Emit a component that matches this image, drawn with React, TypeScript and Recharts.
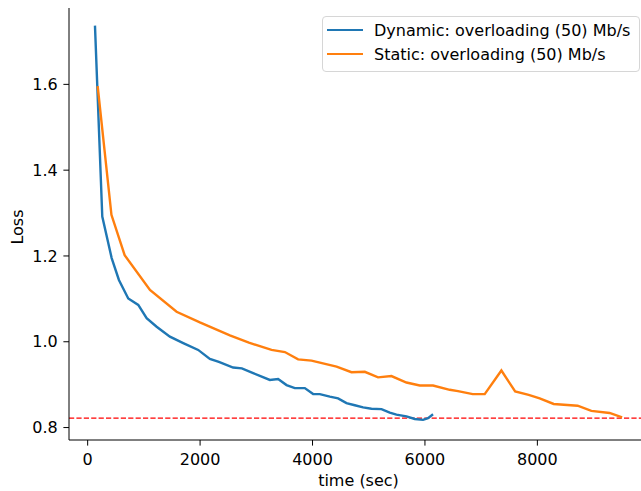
import { LineChart, Line, XAxis, YAxis, Legend, ReferenceLine } from 'recharts';

// values
const dynamicTime = [130, 260, 427, 556, 722, 900, 1049, 1227, 1463, 1700, 1966, 2174, 2334, 2588, 2743, 2944, 3241, 3388, 3538, 3685, 3863, 4011, 4130, 4308, 4455, 4604, 4752, 4900, 5049, 5227, 5374, 5493, 5671, 5819, 5966, 6055, 6144];
const dynamicLoss = [1.737, 1.292, 1.195, 1.144, 1.101, 1.086, 1.055, 1.035, 1.012, 0.997, 0.981, 0.96, 0.953, 0.94, 0.938, 0.927, 0.911, 0.913, 0.899, 0.892, 0.892, 0.878, 0.878, 0.872, 0.868, 0.857, 0.852, 0.847, 0.844, 0.843, 0.835, 0.83, 0.826, 0.82, 0.818, 0.822, 0.831];

const staticTime = [178, 423, 658, 1108, 1582, 1996, 2530, 2868, 3271, 3508, 3744, 3982, 4428, 4693, 4930, 5166, 5404, 5671, 5908, 6144, 6441, 6588, 6850, 7063, 7360, 7605, 7845, 8041, 8290, 8716, 8960, 9285, 9508];
const staticLoss = [1.596, 1.296, 1.202, 1.121, 1.07, 1.045, 1.015, 0.998, 0.981, 0.976, 0.959, 0.956, 0.942, 0.929, 0.93, 0.917, 0.92, 0.905, 0.898, 0.898, 0.888, 0.885, 0.878, 0.878, 0.933, 0.884, 0.876, 0.868, 0.855, 0.851, 0.839, 0.834, 0.824];

const targetLoss = 0.822;
const xTicks = [0, 2000, 4000, 6000, 8000];
const yTicks = [0.8, 1.0, 1.2, 1.4, 1.6];
const seriesNames = ['Dynamic: overloading (50) Mb/s', 'Static: overloading (50) Mb/s'];

const dynamicData = dynamicTime.map((t, i) => ({ t, loss: dynamicLoss[i] }));
const staticData = staticTime.map((t, i) => ({ t, loss: staticLoss[i] }));

const FONT = '"DejaVu Sans", sans-serif';
const xDomain: [number, number] = [-332, 9968];
const yDomain: [number, number] = [0.771, 1.778];

function LegendBox({ payload }: any) {
  return (
    <div
      style={{
        border: '1px solid #d6d6d6',
        borderRadius: 4,
        background: 'rgba(255,255,255,0.8)',
        padding: '1px 0 5px 0',
        fontFamily: FONT,
        fontSize: 16,
        color: '#000',
      }}
    >
      {(payload || []).map((p: any) => (
        <div key={p.value} style={{ display: 'flex', alignItems: 'center', height: 24, whiteSpace: 'nowrap' }}>
          <div style={{ width: 36, height: 2.4, background: p.color, marginLeft: 4, marginRight: 11 }} />
          <span>{p.value}</span>
        </div>
      ))}
    </div>
  );
}

export default function App() {
  return (
    <div
      style={{
        position: 'fixed',
        top: 0,
        left: 0,
        width: 641,
        height: 491,
        overflow: 'hidden',
        background: '#fff',
      }}
    >
      <LineChart width={660} height={491} margin={{ top: 8, right: 12, bottom: 0, left: 0 }}>
        <XAxis
          dataKey="t"
          type="number"
          domain={xDomain}
          ticks={xTicks}
          allowDataOverflow
          height={51}
          stroke="#000"
          tickSize={5.6}
          tickMargin={8}
          tick={{ fill: '#000', fontSize: 16, fontFamily: FONT }}
          label={() => (
            <text x={358.5} y={486} textAnchor="middle" fontSize={16} fontFamily={FONT} fill="#000">
              time (sec)
            </text>
          )}
        />
        <XAxis
          xAxisId="top"
          orientation="top"
          type="number"
          domain={xDomain}
          allowDataOverflow
          height={0}
          tick={false}
          tickLine={false}
          stroke="#000"
        />
        <YAxis
          type="number"
          domain={yDomain}
          ticks={yTicks}
          allowDataOverflow
          width={69}
          stroke="#000"
          tickSize={5.6}
          tickMargin={5.6}
          tickFormatter={(v) => v.toFixed(1)}
          tick={{ fill: '#000', fontSize: 16, fontFamily: FONT }}
          label={() => (
            <text
              x={22.7}
              y={227}
              textAnchor="middle"
              fontSize={16}
              fontFamily={FONT}
              fill="#000"
              transform="rotate(-90, 22.7, 227)"
            >
              Loss
            </text>
          )}
        />
        <ReferenceLine y={targetLoss} stroke="#ff0000" strokeWidth={1.3} strokeDasharray="5.2 2.2" />
        <Line
          data={dynamicData}
          dataKey="loss"
          name={seriesNames[0]}
          type="linear"
          stroke="#1f77b4"
          strokeWidth={2.4}
          dot={false}
          isAnimationActive={false}
        />
        <Line
          data={staticData}
          dataKey="loss"
          name={seriesNames[1]}
          type="linear"
          stroke="#ff7f0e"
          strokeWidth={2.4}
          dot={false}
          isAnimationActive={false}
        />
        <Legend
          layout="vertical"
          align="center"
          verticalAlign="middle"
          content={<LegendBox />}
          wrapperStyle={{ position: 'absolute', left: 322, top: 16, width: 318, height: 'auto' }}
        />
      </LineChart>
    </div>
  );
}
